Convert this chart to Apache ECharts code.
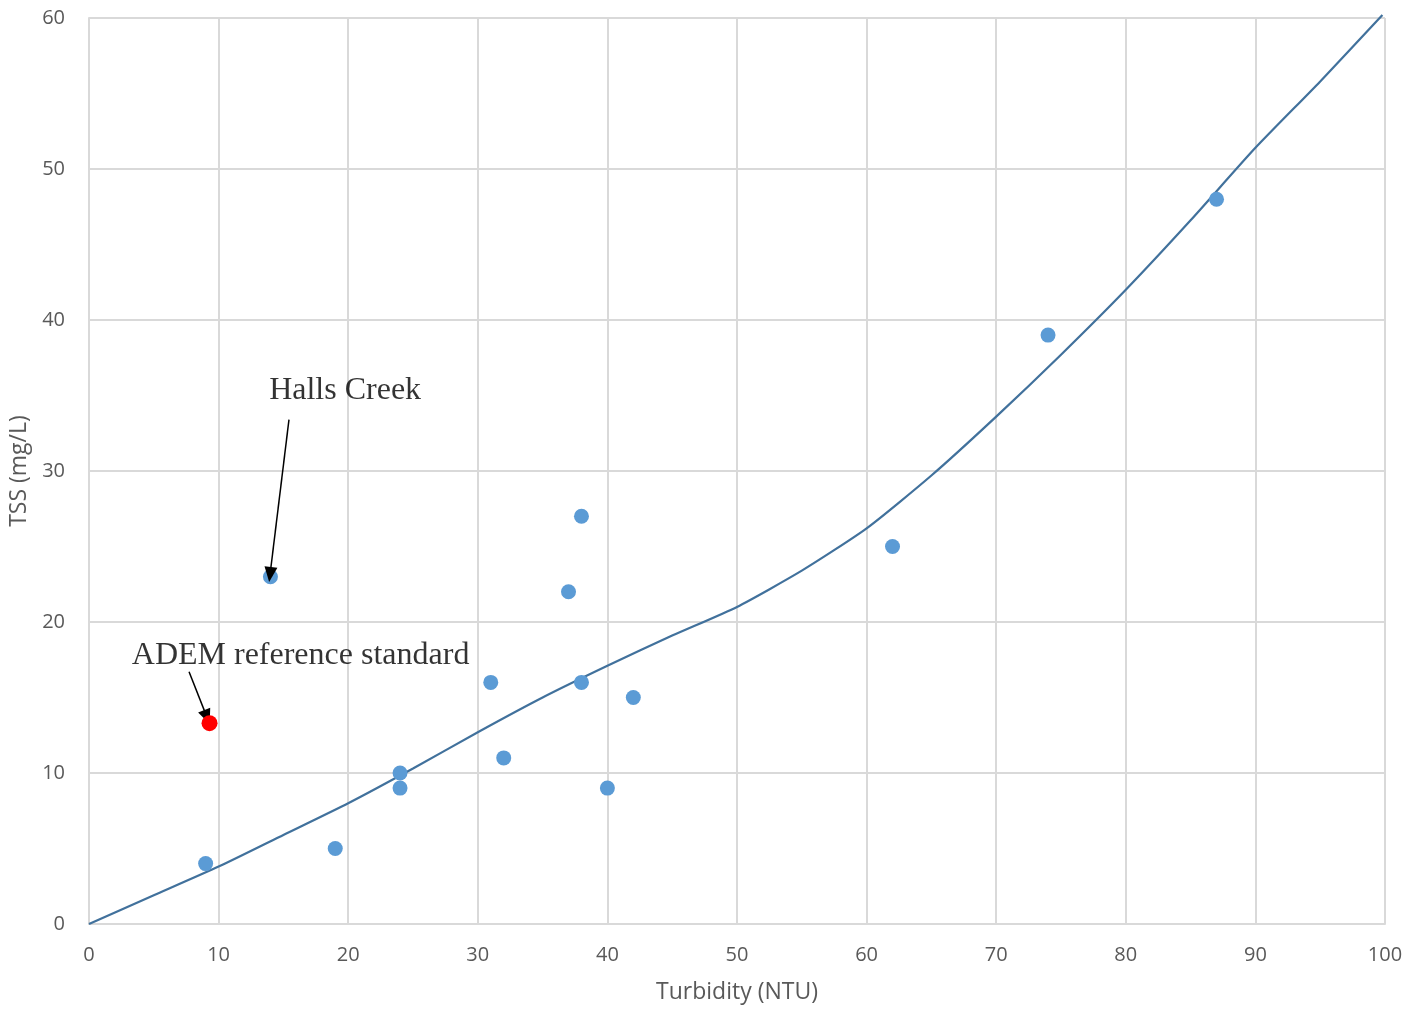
<!DOCTYPE html>
<html>
<head>
<meta charset="utf-8">
<script src="https://cdn.jsdelivr.net/npm/echarts@6/dist/echarts.min.js"></script>
<style>html,body{margin:0;padding:0;background:#fff}#c{width:1424px;height:1010px}</style>
</head>
<body>
<div id="c"></div>
<script>
// Observed samples (Turbidity NTU, TSS mg/L)
const turbidity = [9, 14, 19, 24, 24, 31, 32, 37, 38, 38, 40, 42, 62, 74, 87];
const tss       = [4, 23, 5, 10, 9, 16, 11, 22, 27, 16, 9, 15, 25, 39, 48];
// ADEM reference standard point
const refX = [9.3];
const refY = [13.3];
// Fitted curve
const curveX = [0, 5, 10, 15, 20, 25, 30, 35, 40, 45, 50, 55, 60, 65, 70, 75, 80, 85, 90, 95, 99.8];
const curveY = [0, 1.9, 3.8, 5.9, 8.0, 10.3, 12.7, 15.0, 17.1, 19.1, 21.0, 23.4, 26.2, 29.7, 33.6, 37.7, 42.0, 46.6, 51.4, 55.8, 60.2];
// Annotations: label text, label anchor, arrow start, arrow end
const annoText  = ['Halls Creek', 'ADEM reference standard'];
const annoX     = [13.9, 3.3];
const annoY     = [35.3, 17.8];
const arrowFrom = [[15.43, 33.4], [7.72, 16.7]];
const arrowTo   = [[13.97, 23.15], [9.1, 13.7]];
// Axis ticks
const xTicks = { min: 0, max: 100, interval: 10 };
const yTicks = { min: 0, max: 60, interval: 10 };

const chart = echarts.init(document.getElementById('c'));
const axisFont = { fontFamily: 'Open Sans', fontSize: 20, color: '#595959' };
const nameFont = { fontFamily: 'Open Sans', fontSize: 23, color: '#595959' };
const gridLine = { lineStyle: { color: '#d9d9d9', width: 2 } };

chart.setOption({
  animation: false,
  backgroundColor: '#fff',
  grid: { left: 89, right: 39, top: 18, bottom: 86 },
  xAxis: {
    type: 'value', min: xTicks.min, max: xTicks.max, interval: xTicks.interval,
    name: 'Turbidity (NTU)', nameLocation: 'middle', nameGap: 57,
    nameTextStyle: nameFont,
    axisLine: { show: true, lineStyle: { color: '#d9d9d9', width: 2 } },
    axisTick: { show: false },
    axisLabel: Object.assign({ margin: 21 }, axisFont),
    splitLine: Object.assign({ show: true }, gridLine)
  },
  yAxis: {
    type: 'value', min: yTicks.min, max: yTicks.max, interval: yTicks.interval,
    name: 'TSS (mg/L)', nameLocation: 'middle', nameGap: 57,
    nameTextStyle: nameFont,
    axisLine: { show: true, lineStyle: { color: '#d9d9d9', width: 2 } },
    axisTick: { show: false },
    axisLabel: Object.assign({ margin: 24 }, axisFont),
    splitLine: Object.assign({ show: true }, gridLine)
  },
  series: [
    {
      type: 'line', name: 'fit', clip: false, smooth: 0.2,
      data: curveX.map((x, i) => [x, curveY[i]]),
      showSymbol: false, symbol: 'none',
      lineStyle: { color: '#41719c', width: 2.2 },
      z: 3
    },
    {
      type: 'scatter', name: 'samples',
      data: turbidity.map((x, i) => [x, tss[i]]),
      symbolSize: 15,
      itemStyle: { color: '#5b9bd5', opacity: 1 },
      z: 4
    },
    {
      type: 'scatter', name: 'reference',
      data: refX.map((x, i) => [x, refY[i]]),
      symbolSize: 16,
      itemStyle: { color: '#ff0000', opacity: 1 },
      z: 5
    },
    {
      type: 'scatter', name: 'annotations',
      data: annoText.map((t, i) => ({ name: t, value: [annoX[i], annoY[i]] })),
      symbolSize: 0,
      label: {
        show: true, position: 'right', distance: 0,
        formatter: p => p.name,
        fontFamily: 'Liberation Serif', fontSize: 32, color: '#000'
      },
      markLine: {
        silent: true,
        label: { show: false },
        lineStyle: { color: '#000', width: 1.5, type: 'solid' },
        data: arrowFrom.map((a, i) => [
          { coord: a, symbol: 'none' },
          { coord: arrowTo[i], symbol: 'triangle', symbolSize: [13, 15] }
        ])
      },
      z: 6
    }
  ]
});
</script>
</body>
</html>
